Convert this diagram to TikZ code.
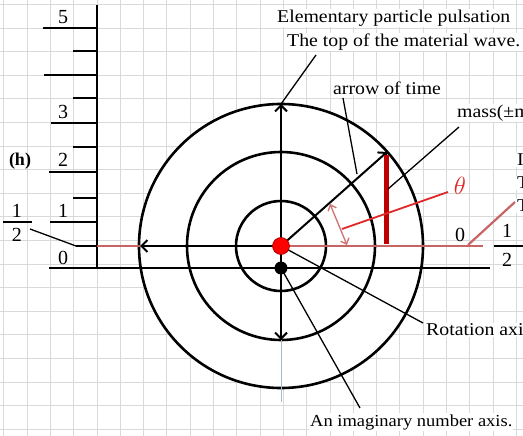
\documentclass[tikz,border=0pt]{standalone}
\usepackage{fontspec}
\setmainfont{Liberation Serif}
\newfontfamily\lblfont[FakeStretch=1.1]{Liberation Serif}
\usetikzlibrary{arrows.meta}
\definecolor{gridc}{HTML}{D9D9D9}
\definecolor{axred}{HTML}{C86464}
\definecolor{barred}{HTML}{C00000}
\definecolor{thred}{HTML}{E02828}
\definecolor{pinkred}{HTML}{D07070}
\definecolor{bluegray}{HTML}{A8B8C8}
\begin{document}
\begin{tikzpicture}[x=1pt,y=-1pt,
  lbl/.style={font=\lblfont\fontsize{18}{18}\selectfont, inner sep=1pt, fill=white},
  num/.style={font=\fontsize{20}{20}\selectfont, inner sep=0pt},
  gridline/.style={gridc, line width=0.8},
  circ/.style={line width=2.6},
  axis/.style={line width=2.6},
  tick/.style={line width=2},
  vec/.style={line width=2, -{Straight Barb[length=6pt,width=12pt,line width=2]}},
  leader/.style={line width=1.3},
  redax/.style={axred, line width=2.2}
]
\useasboundingbox (0,0) rectangle (523,436);
\clip (0,0) rectangle (523,436);
% grid
\foreach \i in {0,...,22} \draw[gridline] ({3.7+23.3*\i},0) -- ({3.7+23.3*\i},436);
\foreach \j in {0,...,18} \draw[gridline] (0,{4.4+23.6*\j}) -- (523,{4.4+23.6*\j});

% key points
\coordinate (O) at (281,246);
\coordinate (B) at (281,268);
\coordinate (Top) at (281,104);
\coordinate (Down) at (281,340);
\coordinate (DownEnd) at (281,402);
\coordinate (Left) at (140,246);
\coordinate (Diag) at (387,152);

% circles
\draw[circ, fill=white] (O) circle[radius=142];
\draw[circ] (O) circle[radius=94];
\draw[circ] (O) circle[radius=45];

% vertical scale axis and ticks
\draw[axis] (97,5) -- (97,268);
\draw[tick] (43,28) -- (97,28);
\draw[tick] (73,51) -- (97,51);
\draw[tick] (44,75) -- (97,75);
\draw[tick] (73,98) -- (97,98);
\draw[tick] (51,123) -- (97,123);
\draw[tick] (73,147) -- (97,147);
\draw[tick] (49,172) -- (97,172);
\draw[tick] (73,198) -- (97,198);
\draw[tick] (50,222) -- (97,222);
\draw[tick] (76,246) -- (97,246);
\draw[axis] (49,268) -- (490,268);

\node[num] (n5) at (63,17) {5};
\node[num] (n3) at (63,112) {3};
\node[num] (n2) at (63,160) {2};
\node[num] (n1) at (63,211) {1};
\node[num] (n0) at (63,258) {0};
\node[font=\bfseries\fontsize{18}{18}\selectfont, inner sep=0pt] (h) at (20,161) {(h)};

% left fraction
\node[num] (lf1) at (17,211) {1};
\node[num] (lf2) at (17,235) {2};
\draw[tick] (3,222) -- (32,222);
\coordinate (lfp) at (30,229);
\coordinate (zero) at (76,246);
\draw[leader] (lfp) -- (zero);

% red horizontal axis
\draw[redax] (97,246) -- (Left);
\draw[redax] (O) -- (483,246);
\draw[redax] (468,245) -- (515,202);
\node[num] (r0) at (460,235) {0};
\node[num] (rf1) at (507,231) {1};
\node[num] (rf2) at (507,260) {2};
\draw[tick] (494,246) -- (530,246);

% vectors
\draw[vec] (O) -- (Top);
\draw[vec] (O) -- (Down);
\draw[bluegray, line width=1] (Down) -- (DownEnd);
\draw[vec] (O) -- (Left);
\draw[vec] (O) -- (Diag);

% red bar and angle
\draw[barred, line width=5] (386,155) -- (386,244);
\draw[pinkred, line width=1.3, {Straight Barb[length=5pt,width=9pt]}-{Straight Barb[length=5pt,width=9pt]}] (330,204) -- (347,245);
\coordinate (thA) at (342,229);
\node[text=thred, font=\fontsize{23}{23}\selectfont, inner sep=1pt] (theta) at (460,186) {$\theta$};
\draw[thred, line width=1.8] (thA) -- (448,192);

% labels
\node[lbl, anchor=west] (elem) at (276,18) {Elementary particle pulsation};
\node[lbl, anchor=west] (topl) at (286,42) {The top of the material wave.};
\node[lbl, anchor=west] (time) at (332,88) {arrow of time};
\node[lbl, anchor=west] (mass) at (456,113) {mass(±m};
\node[lbl, anchor=west] (rot) at (425,330) {Rotation axi};
\node[lbl, anchor=west, font=\lblfont\fontsize{16.8}{17}\selectfont] (imag) at (309,422) {An imaginary number axis.};
\node[lbl, anchor=west] (cut1) at (516,160) {I};
\node[lbl, anchor=west] (cut2) at (516,183) {T};
\node[lbl, anchor=west] (cut3) at (516,206) {T};

% leaders
\coordinate (topP) at (316,55);
\draw[leader] (topP) -- (Top);
\coordinate (timeP) at (343,98);
\coordinate (timeC) at (357,174);
\draw[leader] (timeP) -- (timeC);
\coordinate (massP) at (459,127);
\coordinate (massC) at (388,189);
\draw[leader] (massP) -- (massC);
\coordinate (rotP) at (423,323);
\draw[leader] (O) -- (rotP);
\coordinate (imagP) at (360,408);
\draw[leader] (B) -- (imagP);

% dots
\fill[black] (B) circle[radius=6.5];
\draw[fill=red, draw=red!60!black, line width=0.6] (O) circle[radius=8.5];
\end{tikzpicture}
\end{document}
